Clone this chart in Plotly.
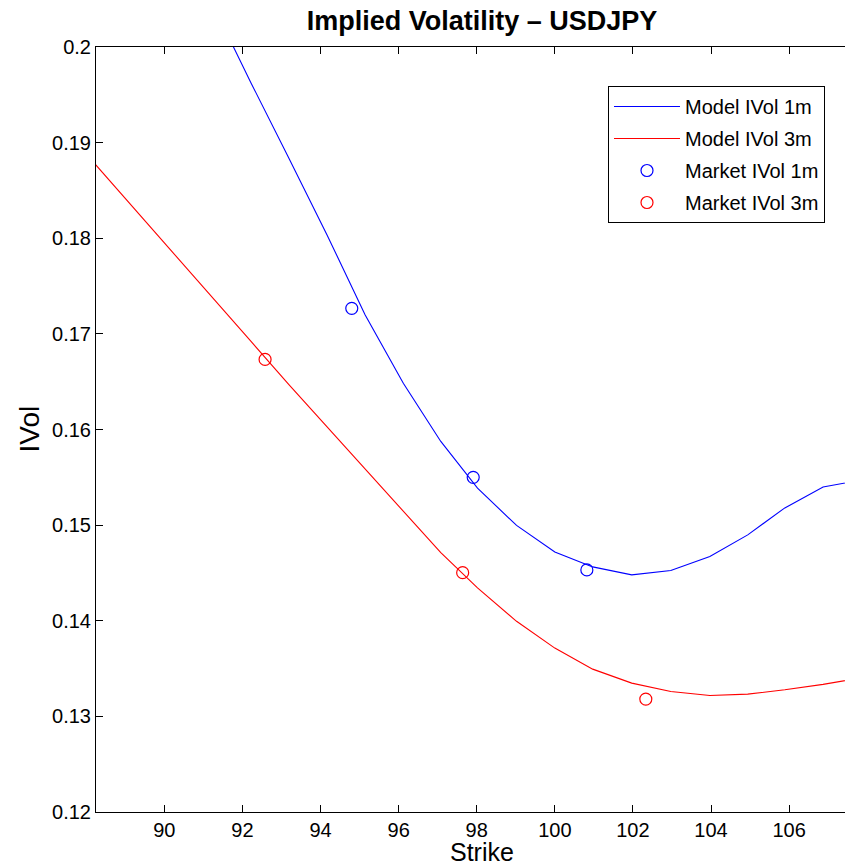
import plotly.graph_objects as go

# Model curves (knot strikes and implied vols)
model_strikes = [87.34, 88.32, 89.29, 90.27, 91.25, 92.22, 93.19, 94.17, 95.14, 96.12,
                 97.08, 98.02, 99.02, 100.00, 100.97, 101.97, 102.97, 103.97,
                 104.94, 105.89, 106.87, 107.85]
model_1m = [None, None, None, None, 0.20436, 0.19624, 0.18837, 0.18032, 0.17201, 0.16483,
            0.15875, 0.15386, 0.14997, 0.14720, 0.14563, 0.14480, 0.14525, 0.14671,
            0.14898, 0.15180, 0.15399, 0.15472]
model_3m = [0.19187, 0.18734, 0.18280, 0.17827, 0.17373, 0.16921, 0.16469, 0.16027,
            0.15589, 0.15147, 0.14712, 0.14344, 0.13994, 0.13714, 0.13494, 0.13348,
            0.13260, 0.13218, 0.13233, 0.13278, 0.13335, 0.13403]

# Market quotes
market_1m_strikes = [94.80, 97.91, 100.82]
market_1m = [0.17267, 0.15500, 0.14532]
market_3m_strikes = [92.58, 97.64, 102.33]
market_3m = [0.16733, 0.14503, 0.13181]

x_ticks = [90, 92, 94, 96, 98, 100, 102, 104, 106, 108]
y_ticks = [0.12, 0.13, 0.14, 0.15, 0.16, 0.17, 0.18, 0.19, 0.2]
y_tick_text = ["0.12", "0.13", "0.14", "0.15", "0.16", "0.17", "0.18", "0.19", "0.2"]

FONT = "Liberation Sans, Arial, Helvetica, sans-serif"

fig = go.Figure()
fig.add_trace(go.Scatter(x=model_strikes, y=model_1m, mode="lines", name="Model IVol 1m",
                         line=dict(color="#0000FF", width=1.1), legendgroup="a"))
fig.add_trace(go.Scatter(x=model_strikes, y=model_3m, mode="lines", name="Model IVol 3m",
                         line=dict(color="#FF0000", width=1.1), legendgroup="b"))
fig.add_trace(go.Scatter(x=market_1m_strikes, y=market_1m, mode="markers", name="Market IVol 1m",
                         marker=dict(symbol="circle-open", size=12, color="#0000FF",
                                     line=dict(width=1.2, color="#0000FF")), legendgroup="c"))
fig.add_trace(go.Scatter(x=market_3m_strikes, y=market_3m, mode="markers", name="Market IVol 3m",
                         marker=dict(symbol="circle-open", size=12, color="#FF0000",
                                     line=dict(width=1.2, color="#FF0000")), legendgroup="d"))

axis_common = dict(showline=True, linecolor="black", linewidth=1,
                   ticks="inside", ticklen=7, tickcolor="black", tickwidth=1,
                   showgrid=False, zeroline=False,
                   tickfont=dict(family=FONT, size=20, color="black"))

W, H = 868, 868
L, T, B = 96, 47, 56
plot_h = H - T - B

fig.update_layout(
    width=W, height=H,
    margin=dict(l=L, r=0, t=T, b=B),
    paper_bgcolor="white", plot_bgcolor="white",
    font=dict(family=FONT, color="black"),
    xaxis=dict(range=[88.25, 108.02], tickvals=x_ticks, mirror="ticks", **axis_common),
    yaxis=dict(range=[0.12, 0.2], tickvals=y_ticks, ticktext=y_tick_text, mirror="ticks",
               **axis_common),
    legend=dict(x=(608 - L) / (W - L), y=1 - (86 - T) / plot_h, xanchor="left", yanchor="top",
                bgcolor="white", bordercolor="black", borderwidth=1,
                font=dict(family=FONT, size=20, color="black"),
                traceorder="grouped", tracegroupgap=3, itemwidth=66),
    showlegend=True,
    title=dict(text="<b>Implied Volatility \u2013 USDJPY</b>", x=0.5, xanchor="center",
               xref="paper", yref="container", y=1 - 21 / H, yanchor="middle",
               font=dict(family=FONT, size=27, color="black")),
    annotations=[
        dict(text="Strike", xref="paper", yref="paper", x=0.5, y=-(852 - (H - B)) / plot_h,
             xanchor="center", yanchor="middle", showarrow=False,
             font=dict(family=FONT, size=25, color="black")),
        dict(text="IVol", xref="paper", yref="paper", x=-(L - 29) / (W - L), y=0.5,
             xanchor="center", yanchor="middle", showarrow=False, textangle=-90,
             font=dict(family=FONT, size=28, color="black")),
    ],
)

fig.write_html(
    "out.html",
    config={"displayModeBar": False},
    post_script="document.body.style.margin='0';document.body.style.overflow='hidden';"
                "document.documentElement.style.overflow='hidden';",
)
